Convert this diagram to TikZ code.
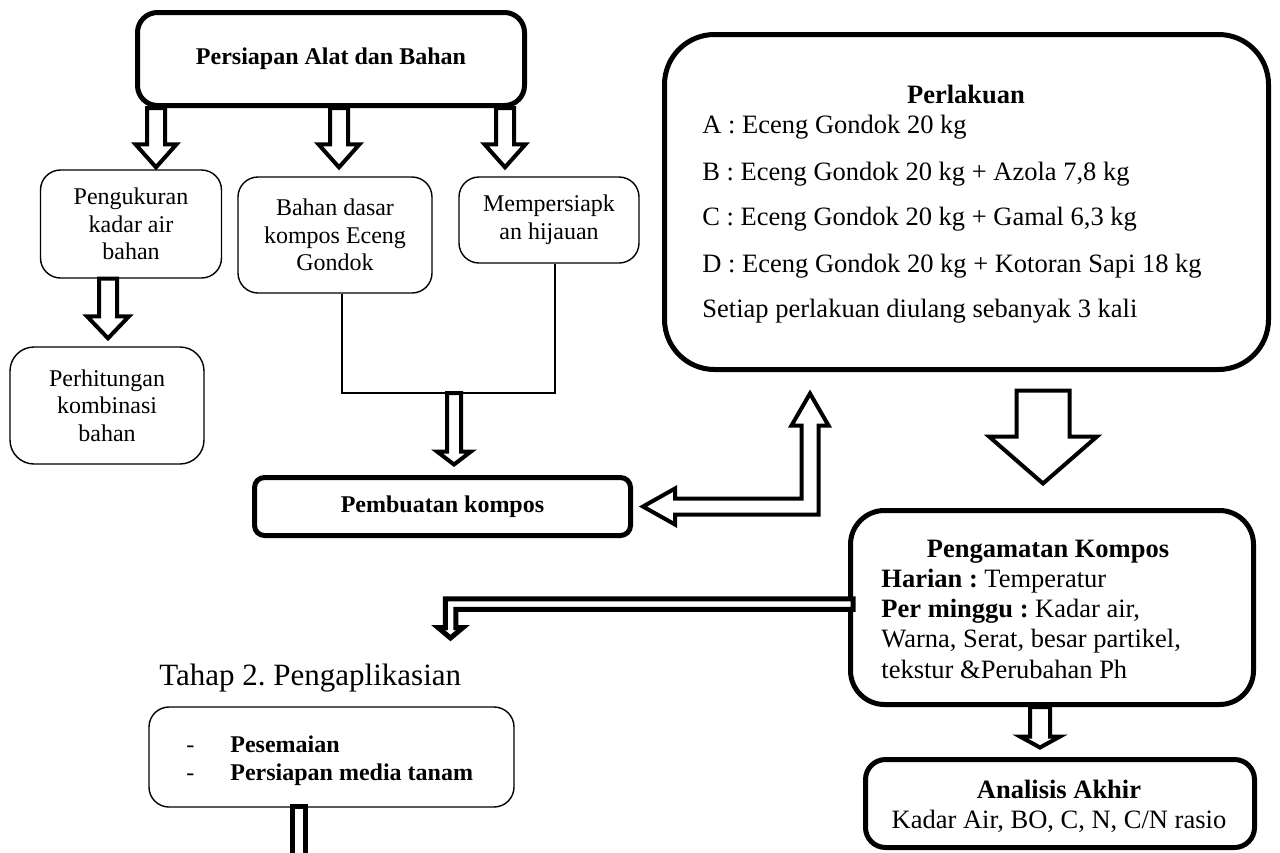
\documentclass[tikz,border=0pt]{standalone}
\usepackage{fontspec}
\setmainfont{Liberation Serif}
\usetikzlibrary{calc}
\frenchspacing
\def\hurufkecil{\fontsize{12}{13.8}\selectfont}
\def\hurufsedang{\fontsize{13.25}{15}\selectfont}
% panah blok ke bawah: ekor, ujung, setengah batang, setengah kepala, panjang kepala
\newcommand\panahbawah[5]{\draw[panah] let \p1=#1, \p2=#2 in
	(\x2-#3,\y1) -- (\x2-#3,\y2+#5) -- (\x2-#4,\y2+#5) -- (\x2,\y2)
	-- (\x2+#4,\y2+#5) -- (\x2+#3,\y2+#5) -- (\x2+#3,\y1) -- cycle;}

\begin{document}
\begin{tikzpicture}[x=0.5pt,y=-0.5pt,
	kotaktipis/.style={draw, line width=0.7pt, rounded corners=10pt, align=center, inner sep=0pt, font=\hurufkecil},
	kotaktebal/.style={draw, line width=2.5pt, inner sep=0pt},
	panah/.style={draw, fill=white, line width=2pt, line join=miter},
	panahganda/.style={draw, fill=white, line width=2.5pt, line join=miter},
	garis/.style={draw, line width=0.7pt},
	teks/.style={inner sep=0pt, font=\hurufsedang}]
	%%%%% START %%%%%
	\useasboundingbox (0,0) rectangle (1280,852);
	\clip (0,0) rectangle (1280,852);
	
	% tahap persiapan
	\node[kotaktebal, rounded corners=10pt, minimum width=193.5pt, minimum height=46.5pt, font=\hurufkecil\bfseries] (prep) at (331,59) {Persiapan Alat dan Bahan};
	\node[kotaktipis, minimum width=90.5pt, minimum height=54pt] (ukur) at (131,224) {Pengukuran\\kadar air\\bahan};
	\node[kotaktipis, minimum width=97pt, minimum height=58pt] (dasar) at (335,235) {Bahan dasar\\kompos Eceng\\Gondok};
	\node[kotaktipis, minimum width=90pt, minimum height=43pt] (hijau) at (549,220) {Mempersiapk\\an hijauan};
	\node[kotaktipis, rounded corners=12pt, minimum width=97pt, minimum height=58.5pt] (hitung) at (107,405.5) {Perhitungan\\kombinasi\\bahan};
	\node[kotaktebal, rounded corners=5pt, minimum width=188pt, minimum height=29pt, font=\hurufkecil\bfseries] (buat) at (442.5,506.5) {Pembuatan kompos};
	
	\panahbawah{(prep.south)}{([xshift=12.5pt,yshift=1pt]ukur.north)}{4.5pt}{10.25pt}{11.5pt}
	\panahbawah{(prep.south)}{([xshift=2pt,yshift=4.5pt]dasar.north)}{4.5pt}{10.25pt}{11.5pt}
	\panahbawah{(prep.south)}{([xshift=-22pt,yshift=4.5pt]hijau.north)}{4.5pt}{10.25pt}{11.5pt}
	\panahbawah{(ukur.south)}{([xshift=0.5pt,yshift=4pt]hitung.north)}{4.5pt}{10.5pt}{11pt}
	
	\coordinate (sambung) at (454,393);
	\draw[garis] ([xshift=3.5pt]dasar.south) |- (sambung) -| ([xshift=3pt]hijau.south);
	\panahbawah{(sambung)}{([xshift=5.75pt,yshift=5.25pt]buat.north)}{3.5pt}{8.5pt}{6.5pt}
	
	% perlakuan
	\node[kotaktebal, rounded corners=25pt, minimum width=302pt, minimum height=167.5pt] (lakuan) at (966.5,202) {};
	\node[teks, font=\hurufsedang\bfseries, anchor=base] (judullakuan) at (966,103) {Perlakuan};
	\node[teks, anchor=base west] (lakuanA) at (702,133) {A : Eceng Gondok 20 kg};
	\node[teks, anchor=base west] (lakuanB) at (702,180) {B : Eceng Gondok 20 kg + Azola 7,8 kg};
	\node[teks, anchor=base west] (lakuanC) at (702,225) {C : Eceng Gondok 20 kg + Gamal 6,3 kg};
	\node[teks, anchor=base west] (lakuanD) at (702,272) {D : Eceng Gondok 20 kg + Kotoran Sapi 18 kg};
	\node[teks, anchor=base west] (ulang) at (702,317) {Setiap perlakuan diulang sebanyak 3 kali};
	
	\draw[panah] let \p1=([xshift=5pt]buat.east), \p2=([xshift=-78.25pt,yshift=-10.75pt]lakuan.south) in
		(\x1,\y1) -- (\x1+16pt,\y1+9pt) -- (\x1+16pt,\y1+4pt) -- (\x2-4.25pt,\y1+4pt)
		-- (\x2-4.25pt,\y2-16pt) -- (\x2-9.25pt,\y2-16pt) -- (\x2,\y2) -- (\x2+9.25pt,\y2-16pt)
		-- (\x2+4.25pt,\y2-16pt) -- (\x2+4.25pt,\y1-4pt) -- (\x1+16pt,\y1-4pt) -- (\x1+16pt,\y1-9pt) -- cycle;
	
	% pengamatan
	\node[kotaktebal, rounded corners=17pt, minimum width=201.5pt, minimum height=97pt] (amat) at (1052,607.5) {};
	\node[teks, font=\hurufsedang\bfseries, anchor=base] (judulamat) at (1048,557) {Pengamatan Kompos};
	\node[teks, anchor=base west] (harian) at (881,587) {\textbf{Harian :} Temperatur};
	\node[teks, anchor=base west] (mingguan) at (881,617) {\textbf{Per minggu :} Kadar air,};
	\node[teks, anchor=base west] (mingguan2) at (881,647) {Warna, Serat, besar partikel,};
	\node[teks, anchor=base west] (mingguan3) at (881,678) {tekstur \&Perubahan Ph};
	
	\panahbawah{([xshift=38.25pt,yshift=-9.25pt]lakuan.south)}{([xshift=-4.5pt,yshift=12.25pt]amat.north)}{13.25pt}{27pt}{23.5pt}
	
	% analisis akhir
	\node[kotaktebal, rounded corners=10pt, minimum width=194.5pt, minimum height=44pt] (akhir) at (1060,803.5) {};
	\node[teks, font=\hurufsedang\bfseries, anchor=base] (judulakhir) at (1059,798) {Analisis Akhir};
	\node[teks, anchor=base] (isiakhir) at (1059,828) {Kadar Air, BO, C, N, C/N rasio};
	\panahbawah{(amat.south)}{([xshift=-10pt,yshift=4.75pt]akhir.north)}{5pt}{10pt}{5.5pt}
	
	% tahap 2
	\node[inner sep=0pt, anchor=base west, font=\fontsize{15.5}{18}\selectfont] (tahap) at (159,685) {Tahap 2. Pengaplikasian};
	\coordinate (ujungtahap) at (450.5,638);
	\draw[panahganda] let \p1=([xshift=2.5pt,yshift=1.75pt]amat.west), \p2=(ujungtahap) in
		(\x1,\y1+2.625pt) -- (\x2-2.625pt,\y1+2.625pt) -- (\x2-2.625pt,\y2+5.25pt) -- (\x2-6.25pt,\y2+5.25pt)
		-- (\x2,\y2) -- (\x2+6.25pt,\y2+5.25pt) -- (\x2+2.625pt,\y2+5.25pt) -- (\x2+2.625pt,\y1-2.625pt)
		-- (\x1,\y1-2.625pt) -- cycle;
	
	\node[kotaktipis, minimum width=182.5pt, minimum height=50pt] (semai) at (331.5,757) {};
	\node[teks, font=\hurufkecil, anchor=base west] (strip1) at (186,752) {-};
	\node[teks, font=\hurufkecil\bfseries, anchor=base west] (semai1) at (230,752) {Pesemaian};
	\node[teks, font=\hurufkecil, anchor=base west] (strip2) at (186,780) {-};
	\node[teks, font=\hurufkecil\bfseries, anchor=base west] (semai2) at (230,780) {Persiapan media tanam};
	
	\coordinate (ujungsemai) at (299,880);
	\draw[panahganda] let \p1=([xshift=-16.25pt,yshift=0.75pt]semai.south), \p2=(ujungsemai) in
		(\x1-3.25pt,\y2) -- (\x1-3.25pt,\y1) -- (\x1+3.25pt,\y1) -- (\x1+3.25pt,\y2);
	
	%%%%% END %%%%%
\end{tikzpicture}
\end{document}
